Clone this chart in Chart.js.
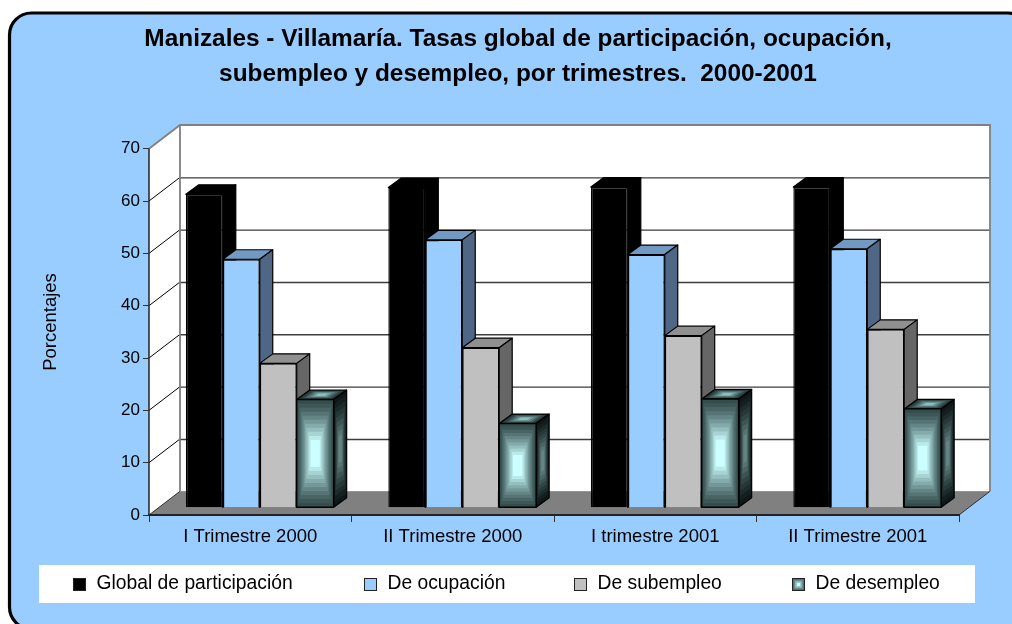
<!DOCTYPE html>
<html lang="es">
<head>
<meta charset="utf-8">
<title>Manizales - Villamaría</title>
<script src="https://cdn.jsdelivr.net/npm/chart.js@4/dist/chart.umd.min.js"></script>
<style>
    html, body { margin: 0; padding: 0; background: #fff; }
    canvas { display: block; }
</style>
</head>
<body>
<canvas id="chart" width="1012" height="624"></canvas>
<script>
// Data
const categories = ['I Trimestre 2000', 'II Trimestre 2000', 'I trimestre 2001', 'II Trimestre 2001'];
const seriesNames = ['Global de participación', 'De ocupación', 'De subempleo', 'De desempleo'];
const participacion = [59.9, 61.2, 61.3, 61.3];
const ocupacion = [47.5, 51.2, 48.4, 49.5];
const subempleo = [27.6, 30.6, 32.9, 34.1];
const desempleo = [20.7, 16.1, 20.8, 18.9];
const yTickStep = 10;
const yMax = 70;

// 3D look: wall depth, and how far bars sit behind the front plane
const wallDepth = { x: 31, y: -23.7 };
const barShift = { x: 9.5, y: -7.2 };
const barDepth = { x: 13, y: -9.5 };

const FONT = '"Liberation Sans", Arial, sans-serif';
const AXIS_SIZE = 18.5;
const TICK_SIZE = 17;
const LEGEND_SIZE = 19.3;

const barStyles = [
    { front: '#000000', top: '#000000', side: '#000000', line: '#000000' },
    { front: '#99ccff', top: '#7199c2', side: '#4f6785', line: '#000000' },
    { front: '#c0c0c0', top: '#909090', side: '#666666', line: '#000000' },
    { front: '#5f8585', top: '#4f7070', side: '#2f4444', line: '#000000', banded: true }
];

const legendBoxX = [73, 364, 574, 792];

function mix(a, b, t) {
    const v = a.map((c, i) => Math.round(c + (b[i] - c) * t));
    return `rgb(${v[0]},${v[1]},${v[2]})`;
}

// Concentric bands across a parallelogram, used for the desempleo bars
function paintBands(ctx, x, y, ux, uy, vx, vy, outer, inner, count) {
    ctx.save();
    ctx.transform(ux, uy, vx, vy, x, y);
    for (let i = 0; i < count; i++) {
        const t = 0.75 * i / (count - 1);
        ctx.fillStyle = mix(outer, inner, Math.pow(i / (count - 1), 1.25));
        ctx.fillRect(t / 2, t / 2, 1 - t, 1 - t);
    }
    ctx.restore();
}

function polygon(ctx, points, fill, stroke, lineWidth) {
    ctx.beginPath();
    points.forEach((p, i) => (i ? ctx.lineTo(p[0], p[1]) : ctx.moveTo(p[0], p[1])));
    ctx.closePath();
    if (fill) {
        ctx.fillStyle = fill;
        ctx.fill();
    }
    if (stroke) {
        ctx.strokeStyle = stroke;
        ctx.lineWidth = lineWidth || 1;
        ctx.lineJoin = 'round';
        ctx.stroke();
    }
}

// Page frame, walls, floor and the grid that runs around them
const backdropPlugin = {
    id: 'backdrop',
    afterLayout(chart) {
        // title sits right of the canvas centre, axis title above the plot centre
        chart.titleBlock.left += 38.5;
        chart.titleBlock.right += 38.5;
        chart.scales.y.top -= 19.7;
    },
    beforeDraw(chart) {
        const { ctx, chartArea: area, scales: { y } } = chart;
        const dx = wallDepth.x;
        const dy = wallDepth.y;
        ctx.save();

        ctx.fillStyle = '#ffffff';
        ctx.fillRect(0, 0, chart.width, chart.height);
        ctx.beginPath();
        ctx.roundRect(9.5, 13, 1020.5, 616, 22);
        ctx.fillStyle = '#99ccff';
        ctx.fill();
        ctx.strokeStyle = '#000000';
        ctx.lineWidth = 3.2;
        ctx.stroke();

        const l = area.left, r = area.right, t = area.top, b = area.bottom;
        polygon(ctx, [[l, t], [l + dx, t + dy], [r + dx, t + dy], [r + dx, b + dy], [l + dx, b + dy], [l, b]], '#ffffff');
        polygon(ctx, [[l, b], [l + dx, b + dy], [r + dx, b + dy], [r, b]], '#808080');

        y.ticks.forEach(tick => {
            if (tick.value === 0 || tick.value === yMax) return;
            const py = y.getPixelForValue(tick.value);
            ctx.beginPath();
            ctx.moveTo(l, py);
            ctx.lineTo(l + dx, py + dy);
            ctx.strokeStyle = '#000000';
            ctx.lineWidth = 1;
            ctx.stroke();
            ctx.beginPath();
            ctx.moveTo(l + dx, py + dy + 0.5);
            ctx.lineTo(r + dx, py + dy + 0.5);
            ctx.strokeStyle = '#3c3c3c';
            ctx.lineWidth = 1.4;
            ctx.stroke();
        });

        // wall outline
        ctx.beginPath();
        ctx.moveTo(l, t);
        ctx.lineTo(l + dx, t + dy);
        ctx.lineTo(r + dx, t + dy);
        ctx.lineTo(r + dx, b + dy);
        ctx.moveTo(l + dx, t + dy);
        ctx.lineTo(l + dx, b + dy);
        ctx.strokeStyle = '#808080';
        ctx.lineWidth = 1.8;
        ctx.stroke();

        ctx.beginPath();
        ctx.moveTo(r, b);
        ctx.lineTo(r + dx, b + dy);
        ctx.moveTo(l, b);
        ctx.lineTo(l + dx, b + dy);
        ctx.strokeStyle = '#333333';
        ctx.lineWidth = 1;
        ctx.stroke();

        // front value axis
        ctx.beginPath();
        ctx.moveTo(l, t);
        ctx.lineTo(l, b);
        ctx.strokeStyle = '#222222';
        ctx.lineWidth = 1.5;
        ctx.stroke();

        ctx.restore();
    }
};

// Tops and sides of the bars, left to right, before the library paints the fronts.
// The whole bar set is pushed back off the front plane.
const depthPlugin = {
    id: 'depth',
    beforeDatasetsDraw(chart) {
        const { ctx } = chart;
        ctx.save();
        ctx.translate(barShift.x, barShift.y);
        barStyles.forEach((style, index) => {
            chart.getDatasetMeta(index).data.forEach(bar => {
                const x0 = bar.x - bar.width / 2;
                const x1 = bar.x + bar.width / 2;
                const topFace = [[x0, bar.y], [x0 + barDepth.x, bar.y + barDepth.y], [x1 + barDepth.x, bar.y + barDepth.y], [x1, bar.y]];
                const sideFace = [[x1, bar.y], [x1 + barDepth.x, bar.y + barDepth.y], [x1 + barDepth.x, bar.base + barDepth.y], [x1, bar.base]];
                if (style.banded) {
                    paintBands(ctx, x0, bar.y, bar.width, 0, barDepth.x, barDepth.y, [34, 52, 52], [140, 190, 190], 6);
                    paintBands(ctx, x1, bar.y, barDepth.x, barDepth.y, 0, bar.base - bar.y, [14, 24, 24], [100, 132, 132], 9);
                    polygon(ctx, topFace, null, style.line, 1.2);
                    polygon(ctx, sideFace, null, style.line, 1.2);
                } else {
                    polygon(ctx, topFace, style.top, style.line, 1.2);
                    polygon(ctx, sideFace, style.side, style.line, 1.2);
                }
            });
        });
    },
    afterDatasetDraw(chart, args) {
        const style = barStyles[args.index];
        if (!style.banded) return;
        const { ctx } = chart;
        chart.getDatasetMeta(args.index).data.forEach(bar => {
            const x0 = bar.x - bar.width / 2;
            paintBands(ctx, x0, bar.y, bar.width, 0, 0, bar.base - bar.y, [52, 76, 76], [204, 255, 255], 11);
            polygon(ctx, [[x0, bar.y], [x0 + bar.width, bar.y], [x0 + bar.width, bar.base], [x0, bar.base]], null, style.line, 1.4);
        });
    },
    afterDatasetsDraw(chart) {
        chart.ctx.restore();
    }
};

// Legend strip across the bottom, items spaced as in the original
const legendStripPlugin = {
    id: 'legendStrip',
    afterDraw(chart) {
        const { ctx } = chart;
        ctx.save();
        ctx.fillStyle = '#ffffff';
        ctx.fillRect(39, 565, 936, 38);
        ctx.font = `${LEGEND_SIZE}px ${FONT}`;
        ctx.textBaseline = 'middle';
        chart.data.datasets.forEach((dataset, i) => {
            const style = barStyles[i];
            const x = legendBoxX[i];
            if (style.banded) {
                paintBands(ctx, x, 578, 13, 0, 0, 13, [70, 100, 100], [204, 255, 255], 4);
            } else {
                ctx.fillStyle = style.front;
                ctx.fillRect(x, 578, 13, 13);
            }
            ctx.strokeStyle = '#222222';
            ctx.lineWidth = 1;
            ctx.strokeRect(x + 0.5, 578.5, 12, 12);
            ctx.fillStyle = '#000000';
            ctx.fillText(dataset.label, x + 23.5, 584);
        });
        ctx.restore();
    }
};

function makeDataset(label, data, index) {
    return {
        label: label,
        data: data,
        backgroundColor: barStyles[index].front,
        borderColor: barStyles[index].line,
        borderWidth: 1.4,
        clip: false
    };
}

new Chart(document.getElementById('chart'), {
    type: 'bar',
    data: {
        labels: categories,
        datasets: [
            makeDataset(seriesNames[0], participacion, 0),
            makeDataset(seriesNames[1], ocupacion, 1),
            makeDataset(seriesNames[2], subempleo, 2),
            makeDataset(seriesNames[3], desempleo, 3)
        ]
    },
    plugins: [backdropPlugin, depthPlugin, legendStripPlugin],
    options: {
        responsive: false,
        animation: false,
        layout: { padding: { left: 0, right: 53, top: 0, bottom: 59 } },
        datasets: { bar: { categoryPercentage: 0.73, barPercentage: 1 } },
        plugins: {
            legend: { display: false },
            tooltip: { enabled: false },
            title: {
                display: true,
                text: ['Manizales - Villamaría. Tasas global de participación, ocupación,',
                       'subempleo y desempleo, por trimestres.  2000-2001'],
                color: '#000000',
                font: { family: FONT, size: 24.4, weight: 'bold', lineHeight: 35 / 24.4 },
                padding: { top: 21.5, bottom: 57.2 }
            }
        },
        scales: {
            x: {
                afterFit(scale) { scale.height = 50; },
                grid: { drawOnChartArea: false, drawTicks: true, tickLength: 7, color: '#333333' },
                border: { display: true, color: '#222222', width: 2 },
                ticks: {
                    color: '#000000',
                    padding: 4,
                    maxRotation: 0,
                    font: { family: FONT, size: AXIS_SIZE }
                }
            },
            y: {
                min: 0,
                max: yMax,
                afterFit(scale) { scale.width = 149; },
                title: {
                    display: true,
                    text: 'Porcentajes',
                    color: '#000000',
                    font: { family: FONT, size: AXIS_SIZE },
                    padding: { top: 39.5, bottom: 0 }
                },
                grid: { drawOnChartArea: false, drawTicks: true, tickLength: 6, color: '#333333' },
                border: { display: false },
                ticks: {
                    stepSize: yTickStep,
                    color: '#000000',
                    padding: 3,
                    font: { family: FONT, size: TICK_SIZE }
                }
            }
        }
    }
});
</script>
</body>
</html>
